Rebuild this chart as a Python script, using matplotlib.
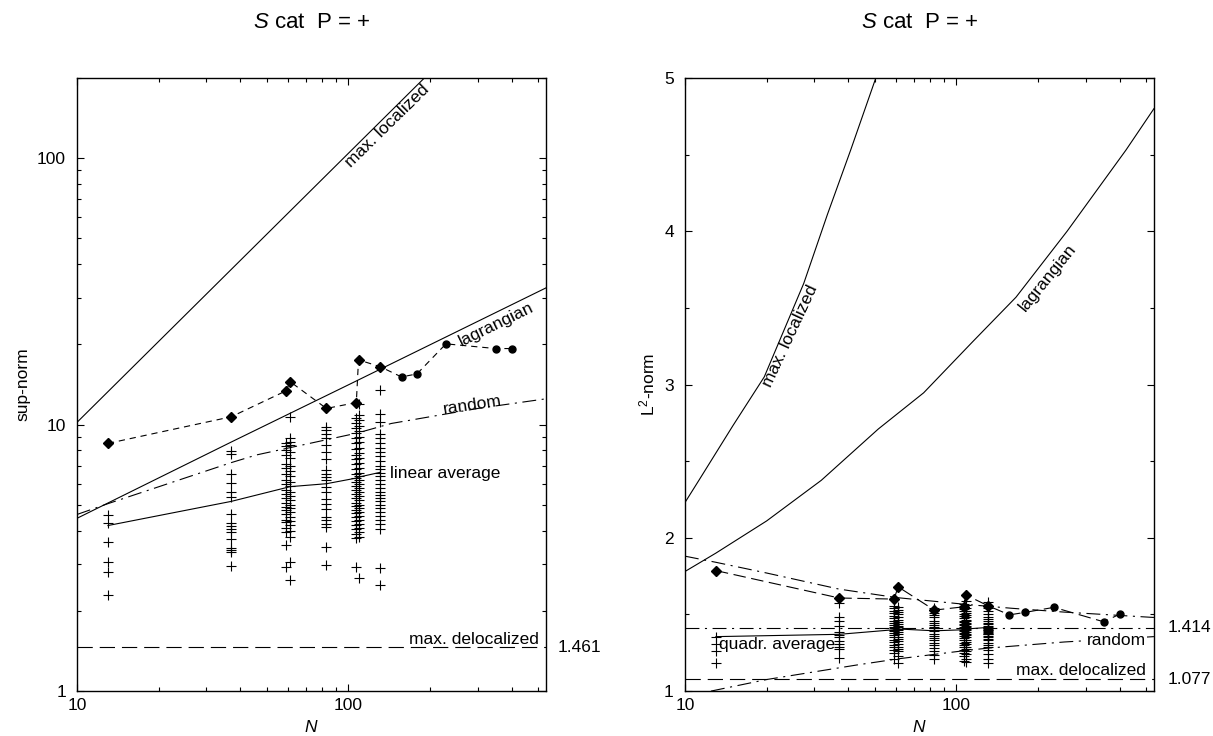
import matplotlib
matplotlib.use('Agg')
import matplotlib.pyplot as plt
from matplotlib.ticker import FuncFormatter, LogLocator, NullFormatter, MultipleLocator

plt.rcParams['font.family'] = ['Liberation Sans', 'DejaVu Sans']
plt.rcParams['mathtext.fontset'] = 'custom'
plt.rcParams['mathtext.rm'] = 'Liberation Sans'
plt.rcParams['mathtext.it'] = 'Liberation Sans:italic'
plt.rcParams['lines.scale_dashes'] = False

# ---------------- data ----------------
# N values with eigenstate clusters, and the extra (larger) N values
n_cluster = [13, 37, 59, 61, 83, 107, 109, 131]
n_big = [157, 179, 229, 349, 401]

# sup-norm of individual eigenstates, one list per N
sup_13 = [4.59, 4.27, 3.64, 3.06, 2.79, 2.29]
sup_37 = [7.95, 7.74, 6.51, 6.06, 5.58, 5.35, 4.63, 4.27, 4.18, 4.06, 3.95, 3.72, 3.43, 3.37, 3.32, 2.94]
sup_59 = [8.5, 8.3, 8.0, 7.7, 7.1, 6.9, 6.5, 6.2, 6.0, 5.7, 5.5, 5.3, 5.1, 4.9, 4.8, 4.6, 4.4, 4.3, 4.1, 3.95, 3.52, 2.93]
sup_61 = [10.7, 8.9, 8.6, 8.4, 7.9, 7.5, 7.0, 6.7, 6.4, 6.1, 5.9, 5.6, 5.4, 5.2, 5.0, 4.85, 4.7, 4.5, 4.35, 4.2, 4.0, 3.8, 3.06, 2.61]
sup_83 = [9.81, 9.53, 9.26, 8.87, 8.37, 7.90, 7.46, 6.74, 6.55, 6.36, 6.18, 5.83, 5.58, 5.27, 5.05, 4.83, 4.50, 4.37, 4.24, 4.12, 3.47, 2.97]
sup_107 = [10.6, 10.1, 9.7, 9.3, 8.9, 8.5, 8.1, 7.7, 7.4, 7.1, 6.8, 6.5, 6.3, 6.1, 5.9, 5.7, 5.5, 5.3, 5.1, 4.95,
           4.8, 4.65, 4.5, 4.35, 4.2, 4.05, 3.9, 3.75, 2.91]
sup_109 = [12.0, 10.9, 10.4, 9.9, 9.5, 9.0, 8.6, 8.2, 7.8, 7.5, 7.2, 6.9, 6.6, 6.4, 6.2, 6.0, 5.8, 5.6, 5.4, 5.2,
           5.0, 4.85, 4.7, 4.55, 4.4, 4.25, 4.1, 3.95, 3.8, 2.65]
sup_131 = [13.5, 11.0, 10.2, 9.26, 8.87, 8.5, 8.2, 7.9, 7.6, 7.3, 7.0, 6.8, 6.6, 6.4, 6.2, 6.0, 5.8, 5.6, 5.45, 5.3,
           5.15, 5.0, 4.85, 4.7, 4.55, 4.4, 4.25, 4.06, 2.9, 2.51]

# L2-norm of individual eigenstates, one list per N
l2_13 = [1.354, 1.31, 1.262, 1.18]
l2_37 = [1.572, 1.48, 1.458, 1.426, 1.382, 1.367, 1.354, 1.327, 1.306, 1.288, 1.273, 1.218]
l2_59 = [1.556, 1.54, 1.525, 1.51, 1.49, 1.475, 1.46, 1.445, 1.43, 1.42, 1.41, 1.40, 1.39, 1.38, 1.365, 1.35,
         1.335, 1.32, 1.30, 1.285, 1.27, 1.25, 1.21]
l2_61 = [1.55, 1.53, 1.515, 1.50, 1.48, 1.465, 1.45, 1.435, 1.425, 1.415, 1.405, 1.395, 1.385, 1.37, 1.355, 1.34,
         1.325, 1.31, 1.29, 1.275, 1.26, 1.23, 1.185]
l2_83 = [1.545, 1.53, 1.51, 1.495, 1.48, 1.46, 1.445, 1.43, 1.42, 1.41, 1.40, 1.39, 1.375, 1.36, 1.345, 1.33,
         1.315, 1.30, 1.28, 1.26, 1.235, 1.207]
l2_107 = [1.57, 1.55, 1.535, 1.52, 1.505, 1.49, 1.475, 1.46, 1.45, 1.44, 1.43, 1.42, 1.41, 1.40, 1.39, 1.38,
          1.37, 1.36, 1.345, 1.33, 1.315, 1.30, 1.285, 1.27, 1.25, 1.23, 1.196]
l2_109 = [1.589, 1.56, 1.54, 1.525, 1.51, 1.495, 1.48, 1.465, 1.455, 1.445, 1.435, 1.425, 1.415, 1.405, 1.395,
          1.385, 1.375, 1.365, 1.35, 1.335, 1.32, 1.305, 1.29, 1.275, 1.26, 1.24, 1.21, 1.19]
l2_131 = [1.58, 1.545, 1.52, 1.50, 1.485, 1.47, 1.455, 1.445, 1.435, 1.425, 1.415, 1.41, 1.405, 1.40, 1.395,
          1.39, 1.385, 1.38, 1.375, 1.37, 1.36, 1.35, 1.34, 1.33, 1.315, 1.30, 1.285, 1.265, 1.24, 1.21, 1.185]

# special states (diamonds at cluster N, circles at larger N)
sup_special_cluster = [8.5, 10.7, 13.4, 14.5, 11.5, 12.1, 17.5, 16.5]
sup_special_big = [15.1, 15.5, 20.1, 19.3, 19.3]
l2_special_cluster = [1.786, 1.607, 1.600, 1.68, 1.528, 1.55, 1.625, 1.556]
l2_special_big = [1.497, 1.513, 1.546, 1.452, 1.502]

# averages over the clusters
sup_linear_avg = [4.18, 5.15, 5.8, 5.85, 6.0, 6.3, 6.35, 6.62]
l2_quadr_avg = [1.355, 1.37, 1.40, 1.405, 1.393, 1.40, 1.405, 1.415]

# reference curves, sup-norm panel
n_maxloc_sup = [10, 200]
maxloc_sup = [10.2, 210]
n_lag_sup = [10, 37, 100, 535]
lag_sup = [4.45, 8.6, 14.1, 32.6]
n_rand_sup = [10, 13, 37, 46, 108, 144, 300, 535]
rand_sup = [4.6, 5.05, 7.2, 7.7, 9.3, 10.1, 11.5, 12.5]
maxdeloc_sup = 1.461

# reference curves, L2-norm panel
n_maxloc_l2 = [10, 11.3, 15, 19.6, 27.4, 33.5, 40.8, 50.5, 55]
maxloc_l2 = [2.23, 2.38, 2.73, 3.05, 3.66, 4.11, 4.53, 5.0, 5.25]
n_lag_l2 = [10, 13, 20, 31.8, 51.6, 75.8, 115, 166, 256, 422, 535]
lag_l2 = [1.78, 1.90, 2.11, 2.375, 2.71, 2.946, 3.28, 3.57, 4.0, 4.53, 4.80]
n_rand_max_l2 = [10, 13, 20, 37, 60, 109, 160, 250, 535]
rand_max_l2 = [1.88, 1.84, 1.77, 1.665, 1.61, 1.565, 1.54, 1.515, 1.48]
n_rand_l2 = [10, 12.5, 20, 43, 61, 109, 131, 250, 535]
rand_l2 = [0.95, 1.0, 1.075, 1.17, 1.21, 1.265, 1.28, 1.32, 1.355]
rand_limit_l2 = 1.414
maxdeloc_l2 = 1.077

sup_lists = [sup_13, sup_37, sup_59, sup_61, sup_83, sup_107, sup_109, sup_131]
l2_lists = [l2_13, l2_37, l2_59, l2_61, l2_83, l2_107, l2_109, l2_131]

# ---------------- figure ----------------
fig = plt.figure(figsize=(12.13, 7.36), dpi=100)
ax1 = fig.add_axes([0.0635, 0.0611, 0.3866, 0.8329])
ax2 = fig.add_axes([0.5647, 0.0611, 0.3866, 0.8329])

lw = 0.8
dashdot = (0, (10, 4, 1.5, 4))
longdash = (0, (11, 5))
fs = 12.5


def style_axes(ax):
    ax.set_xscale('log')
    ax.set_xlim(10, 535)
    ax.xaxis.set_major_locator(LogLocator(base=10, numticks=10))
    ax.xaxis.set_minor_locator(LogLocator(base=10, subs=range(2, 10), numticks=20))
    ax.xaxis.set_major_formatter(FuncFormatter(lambda v, p: f'{v:g}'))
    ax.xaxis.set_minor_formatter(NullFormatter())
    ax.tick_params(which='both', direction='in', top=True, right=True, labelsize=fs, width=0.8)
    ax.tick_params(which='major', length=5)
    ax.tick_params(which='minor', length=3)
    ax.tick_params(axis='x', pad=5)
    ax.tick_params(axis='y', pad=8)
    for s in ax.spines.values():
        s.set_linewidth(1.0)
    ax.set_xlabel('$N$', fontsize=fs)
    ax.xaxis.set_label_coords(0.5, -0.046)
    ax.text(0.5, 1.09, '$S$ cat  P = +', transform=ax.transAxes, ha='center', va='center', fontsize=16)


# ---- left panel: sup-norm ----
ax = ax1
style_axes(ax)
ax.set_yscale('log')
ax.set_ylim(1, 200)
ax.yaxis.set_major_formatter(FuncFormatter(lambda v, p: f'{v:g}'))
ax.yaxis.set_minor_locator(LogLocator(base=10, subs=range(2, 10), numticks=20))
ax.yaxis.set_minor_formatter(NullFormatter())
ax.set_ylabel('sup-norm', fontsize=fs)
ax.yaxis.set_label_coords(-0.100, 0.5)

for n, vals in zip(n_cluster, sup_lists):
    ax.plot([n] * len(vals), vals, linestyle='none', marker='+', color='k', ms=6.5, mew=0.8)

ax.plot(n_maxloc_sup, maxloc_sup, color='k', lw=lw)
ax.plot(n_lag_sup, lag_sup, color='k', lw=lw)
ax.plot(n_rand_sup, rand_sup, color='k', lw=lw, linestyle=dashdot)
ax.axhline(maxdeloc_sup, color='k', lw=lw, linestyle=longdash)
ax.plot(n_cluster, sup_linear_avg, color='k', lw=lw)
ax.plot(n_cluster + n_big, sup_special_cluster + sup_special_big, color='k', lw=lw, linestyle=(0, (4.5, 3.5)))
ax.plot(n_cluster, sup_special_cluster, linestyle='none', marker='D', color='k', ms=4.8)
ax.plot(n_big, sup_special_big, linestyle='none', marker='o', color='k', ms=5)

ax.text(139, 132, 'max. localized', rotation=44.5, ha='center', va='center', rotation_mode='anchor', fontsize=fs)
ax.text(352, 23.7, 'lagrangian', rotation=26, ha='center', va='center', rotation_mode='anchor', fontsize=fs)
ax.text(287, 11.8, 'random', rotation=8.5, ha='center', va='center', rotation_mode='anchor', fontsize=fs)
ax.text(142, 6.57, 'linear average', ha='left', va='center', fontsize=fs)
ax.text(503, 1.565, 'max. delocalized', ha='right', va='center', fontsize=fs)
ax.text(1.025, maxdeloc_sup, f'{maxdeloc_sup:.3f}', transform=ax.get_yaxis_transform(),
        ha='left', va='center', fontsize=fs)

# ---- right panel: L2-norm ----
ax = ax2
style_axes(ax)
ax.set_ylim(1, 5)
ax.yaxis.set_major_locator(MultipleLocator(1))
ax.yaxis.set_minor_locator(MultipleLocator(0.5))
ax.yaxis.set_major_formatter(FuncFormatter(lambda v, p: f'{v:g}'))
ax.set_ylabel('L$^2$-norm', fontsize=fs)
ax.yaxis.set_label_coords(-0.058, 0.5)

for n, vals in zip(n_cluster, l2_lists):
    ax.plot([n] * len(vals), vals, linestyle='none', marker='+', color='k', ms=6.5, mew=0.8)

ax.plot(n_maxloc_l2, maxloc_l2, color='k', lw=lw)
ax.plot(n_lag_l2, lag_l2, color='k', lw=lw)
ax.plot(n_rand_max_l2, rand_max_l2, color='k', lw=lw, linestyle=dashdot)
ax.plot(n_rand_l2, rand_l2, color='k', lw=lw, linestyle=dashdot)
ax.axhline(rand_limit_l2, color='k', lw=lw, linestyle=dashdot)
ax.axhline(maxdeloc_l2, color='k', lw=lw, linestyle=longdash)
ax.plot(n_cluster, l2_quadr_avg, color='k', lw=lw)
ax.plot(n_cluster + n_big, l2_special_cluster + l2_special_big, color='k', lw=lw, linestyle=(0, (9, 4)))
ax.plot(n_cluster, l2_special_cluster, linestyle='none', marker='D', color='k', ms=4.8)
ax.plot(n_big, l2_special_big, linestyle='none', marker='o', color='k', ms=5)

ax.text(24.5, 3.32, 'max. localized', rotation=65, ha='center', va='center', rotation_mode='anchor', fontsize=fs)
ax.text(217, 3.70, 'lagrangian', rotation=51, ha='center', va='center', rotation_mode='anchor', fontsize=fs)
ax.text(13.4, 1.306, 'quadr. average', ha='left', va='center', fontsize=fs)
ax.text(500, 1.332, 'random', ha='right', va='center', fontsize=fs,
        bbox=dict(facecolor='white', edgecolor='none', pad=0.5))
ax.text(500, 1.131, 'max. delocalized', ha='right', va='center', fontsize=fs)
ax.text(1.03, rand_limit_l2, f'{rand_limit_l2:.3f}', transform=ax.get_yaxis_transform(),
        ha='left', va='center', fontsize=fs)
ax.text(1.03, maxdeloc_l2, f'{maxdeloc_l2:.3f}', transform=ax.get_yaxis_transform(),
        ha='left', va='center', fontsize=fs)

fig.savefig('out.png', dpi=100)
plt.close(fig)
